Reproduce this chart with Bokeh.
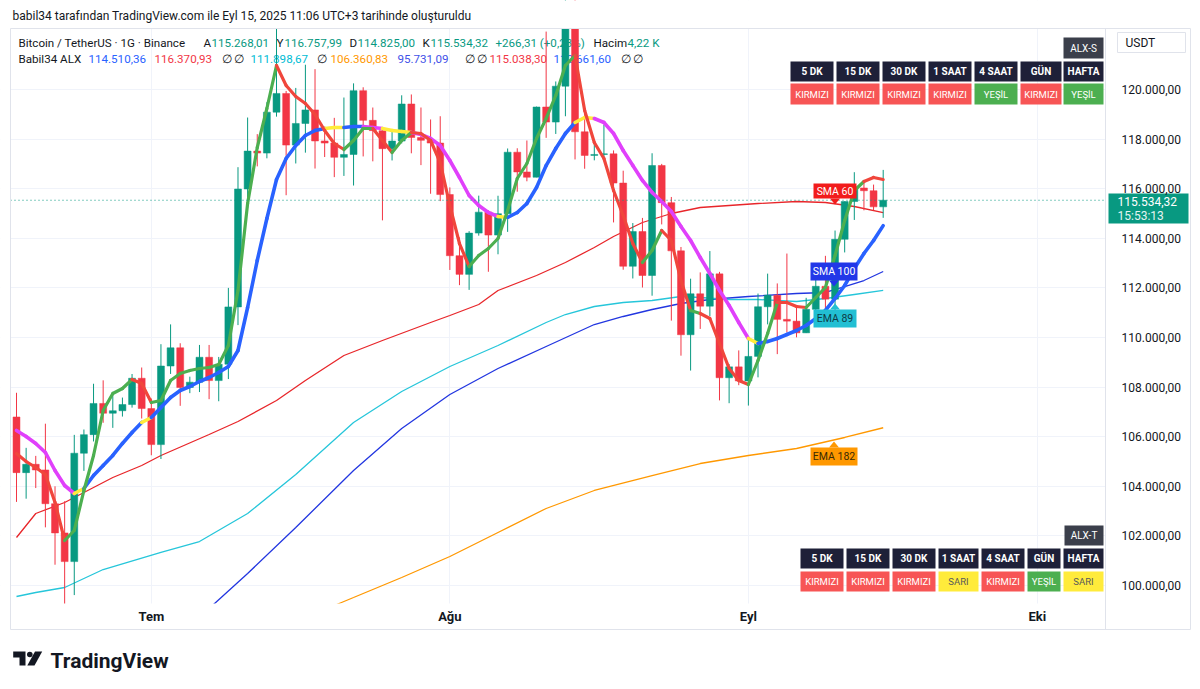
import math
import pandas as pd
from bokeh.plotting import figure
from bokeh.models import Range1d, FixedTicker, CustomJSTickFormatter
from bokeh.embed import file_html
from bokeh.resources import INLINE
from bokeh.core.properties import value

FONT = "Roboto"
DARK = "#131722"
UP = "#089981"
DOWN = "#f23645"

# ---------------- data: BTCUSDT daily candles (Jun 17 - Sep 15, 2025) ----------------
dates = list(pd.date_range("2025-06-17", "2025-09-15", freq="D"))
opens = [106794.53, 104551.18, 104886.79, 104658.59, 103297.99, 102120.02, 100963.87, 105333.94,
         106083.00, 107340.59, 106947.06, 107047.58, 107296.79, 108356.93, 107135.34, 105681.13,
         108849.59, 109584.77, 107984.25, 108198.12, 109203.85, 108262.94, 108922.99, 111234.00,
         115987.20, 117516.99, 117435.24, 119086.65, 119841.17, 117758.09, 118630.44, 119177.56,
         117924.84, 117840.01, 117265.11, 117380.36, 119954.43, 118756.00, 118340.98, 117614.31,
         117919.99, 119415.56, 118062.32, 117950.75, 117840.29, 115764.07, 113297.93, 112546.35,
         114208.81, 115055.03, 114129.75, 114992.27, 117472.02, 116674.74, 116462.25, 119294.27,
         118686.00, 120134.09, 123306.44, 118295.09, 117342.04, 117380.66, 117405.01, 116227.05,
         112872.95, 114271.23, 112500.00, 116936.00, 115438.06, 113493.59, 110111.98, 111763.22,
         111262.01, 112566.90, 108377.40, 108816.33, 108246.36, 109237.43, 111240.01, 111705.72,
         110730.87, 110659.99, 110187.98, 111137.35, 112065.23, 111546.38, 113960.00, 115482.69,
         116029.41, 115918.29, 115268.01]
highs = [107771.34, 105550.27, 105226.32, 106524.65, 104000.00, 103399.62, 106074.20, 106290.00,
         108135.30, 108272.45, 107735.34, 107577.75, 108528.50, 108789.99, 107540.00, 109730.00,
         110529.18, 109767.59, 108420.56, 109700.00, 109700.00, 109216.56, 111999.79, 116868.00,
         118869.98, 118200.00, 119488.00, 123218.00, 119940.83, 120063.84, 120998.71, 120820.71,
         118499.90, 118856.80, 119676.73, 120247.80, 120090.00, 119273.36, 118451.57, 118297.35,
         119766.65, 119800.00, 119273.86, 118792.00, 118922.45, 116052.00, 114036.00, 114288.00,
         115720.00, 115127.81, 115716.00, 117621.00, 117630.00, 117944.05, 119311.11, 122335.16,
         120324.43, 123694.00, 124474.00, 119216.82, 117898.99, 118575.00, 117543.75, 116725.69,
         114615.38, 114821.76, 117429.05, 117000.00, 115666.68, 113650.00, 112371.00, 112625.00,
         113485.90, 112646.40, 108926.15, 109480.02, 109912.40, 111771.52, 112575.27, 112180.00,
         113384.62, 111307.00, 111600.00, 112924.37, 113293.00, 114313.13, 115488.09, 116665.63,
         116298.78, 116165.19, 116757.99]
lows = [103371.02, 103500.00, 103929.27, 102345.00, 100837.90, 98200.00, 99613.33, 104622.02,
        105808.03, 106562.50, 106356.76, 106811.51, 107172.52, 106733.33, 105250.85, 105100.19,
        108530.50, 107245.00, 107756.31, 107800.01, 107513.20, 107429.57, 108324.53, 110500.00,
        115222.22, 116900.05, 117224.79, 118905.18, 115736.92, 117017.29, 117453.57, 116812.76,
        117277.34, 116467.02, 116515.00, 116128.00, 117301.00, 117103.10, 114723.16, 117138.38,
        117825.50, 117427.50, 116950.75, 115796.23, 115500.00, 112722.58, 112111.10, 111920.00,
        114107.13, 112650.00, 113355.13, 114259.00, 115878.71, 116299.13, 116460.93, 118050.11,
        118207.47, 118921.35, 117180.00, 116803.99, 117143.98, 117172.21, 114640.14, 112732.58,
        112380.00, 112015.67, 111684.79, 114560.00, 110680.00, 109266.67, 108666.66, 110345.42,
        110862.42, 107463.90, 107350.10, 108076.93, 107255.00, 108393.39, 110528.71, 109329.12,
        110206.96, 110006.06, 110180.00, 110621.78, 110766.66, 110917.45, 113430.00, 114740.00,
        115127.27, 115135.00, 114825.00]
closes = [104551.17, 104886.78, 104658.59, 103297.99, 102120.01, 100963.87, 105333.93, 106083.00,
          107340.58, 106947.06, 107047.59, 107296.79, 108356.93, 107135.33, 105681.14, 108849.60,
          109584.78, 107984.24, 108198.12, 109203.84, 108262.94, 108922.98, 111233.99, 115987.21,
          117516.99, 117435.23, 119086.64, 119841.18, 117758.09, 118630.43, 119177.56, 117924.84,
          117840.00, 117265.12, 117380.36, 119954.42, 118755.99, 118340.99, 117614.31, 117919.99,
          119415.55, 118062.32, 117950.76, 117840.30, 115764.08, 113297.93, 112546.35, 114208.80,
          115055.03, 114129.75, 114992.27, 117472.01, 116674.74, 116462.25, 119294.01, 118686.00,
          120134.08, 123306.43, 118295.09, 117342.05, 117380.66, 117405.01, 116227.05, 112872.94,
          114271.24, 112500.00, 116935.99, 115438.05, 113493.59, 110111.98, 111763.22, 111262.01,
          112566.90, 108377.40, 108816.33, 108246.35, 109237.42, 111240.01, 111705.71, 110730.87,
          110659.99, 110187.97, 111137.34, 112065.23, 111546.39, 113960.00, 115482.69, 116029.42,
          115918.29, 115268.01, 115534.32]

# fast indicator line (green = rising state, red = falling state), one value per candle
fast_vals = [105323, 105000, 104758, 104476, 103347, 101815, 102218, 103831, 105242, 107056,
             107742, 107944, 108306, 108145, 107379, 107460, 108266, 108548, 108669, 108750,
             108790, 108911, 109677, 111895, 115403, 117661, 119234, 120968, 120161, 119718,
             119435, 118992, 118347, 117823, 117581, 117944, 118427, 118427, 117944, 117460,
             117944, 118266, 118226, 117944, 117056, 115323, 113790, 112863, 113306, 113589,
             113992, 115121, 116411, 117016, 118024, 118831, 119758, 120968, 121371, 119153,
             117863, 117218, 115927, 114919, 113790, 113024, 113508, 114315, 113911, 112298,
             111089, 110968, 110766, 109758, 108750, 108266, 108105, 109073, 110161, 111411,
             111411, 111250, 111210, 111613, 112016, 113306, 114718, 115927, 116290, 116452,
             116370.93]
fast_state = list("dddddduuuu" "uuudduuuuu" "uuuuuuuudd" "ddddduuudd" "uudddddduu"
                  "uuuuuuuuud" "dddddduudd" "duddddduuu" "ddduuuuuud" "d")

# slow indicator line (blue = rising, magenta = falling, yellow = turning)
slow_vals = [106250, 106008, 105726, 105363, 104637, 104032, 103710, 103911, 104435, 104839,
             105242, 105726, 106169, 106573, 106774, 107177, 107581, 107863, 108024, 108226,
             108387, 108589, 108831, 109476, 111210, 113105, 114798, 116371, 117218, 117742,
             118145, 118347, 118427, 118468, 118468, 118508, 118508, 118468, 118427, 118347,
             118306, 118266, 118185, 118024, 117742, 117137, 116452, 115726, 115323, 115040,
             114879, 114839, 115040, 115403, 116048, 116935, 117621, 118226, 118669, 118871,
             118831, 118669, 118226, 117540, 116935, 116331, 115847, 115484, 115081, 114476,
             113911, 113226, 112581, 111895, 111290, 110605, 109960, 109758, 109839, 109960,
             110121, 110282, 110484, 110766, 111089, 111573, 112097, 112782, 113387, 113911,
             114510.36]
slow_state = list("MMMMMMMYBB" "BBBBYBBBBB" "BBBBBBBBBB" "BBBYYBBMMY" "YYMMMMMMMM"
                  "MYBBBBBBBY" "YMMMMMMMMM" "MMMMMMMYBB" "BBBBBBBBBB" "B")

# thin moving averages
sma60_dates = ["2025-06-17", "2025-06-19", "2025-06-22", "2025-06-24", "2025-06-27", "2025-06-30",
               "2025-07-02", "2025-07-07", "2025-07-10", "2025-07-14", "2025-07-17", "2025-07-21",
               "2025-07-25", "2025-07-30", "2025-08-01", "2025-08-04", "2025-08-06", "2025-08-10",
               "2025-08-13", "2025-08-16", "2025-08-18", "2025-08-21", "2025-08-24", "2025-08-27",
               "2025-08-30", "2025-09-02", "2025-09-06", "2025-09-09", "2025-09-12", "2025-09-15"]
sma60_vals = [101935, 102903, 103347, 103750, 104355, 104839, 105242, 106089, 106613, 107460,
              108266, 109274, 109879, 110605, 110887, 111331, 111895, 112500, 113024, 113629,
              114073, 114637, 115000, 115242, 115323, 115403, 115484, 115444, 115282, 115038.30]

ema89_dates = ["2025-06-17", "2025-06-19", "2025-06-22", "2025-06-26", "2025-07-02", "2025-07-06",
               "2025-07-11", "2025-07-16", "2025-07-22", "2025-07-27", "2025-08-01", "2025-08-06",
               "2025-08-11", "2025-08-13", "2025-08-16", "2025-08-19", "2025-08-22", "2025-08-25",
               "2025-08-27", "2025-08-30", "2025-09-02", "2025-09-06", "2025-09-09", "2025-09-12",
               "2025-09-15"]
ema89_vals = [99556, 99718, 99919, 100645, 101331, 101774, 102903, 104476, 106573, 107823,
              108831, 109677, 110605, 110927, 111250, 111411, 111492, 111653, 111613, 111532,
              111532, 111452, 111573, 111734, 111898.67]

sma100_dates = ["2025-07-07", "2025-07-11", "2025-07-16", "2025-07-22", "2025-07-27", "2025-08-01",
                "2025-08-06", "2025-08-11", "2025-08-16", "2025-08-19", "2025-08-22", "2025-08-25",
                "2025-08-28", "2025-09-01", "2025-09-06", "2025-09-09", "2025-09-11", "2025-09-13",
                "2025-09-15"]
sma100_vals = [99073, 100484, 102339, 104637, 106331, 107702, 108750, 109637, 110524, 110847,
               111129, 111371, 111532, 111653, 111774, 111815, 112056, 112298, 112661.60]

ema182_dates = ["2025-07-20", "2025-07-22", "2025-07-27", "2025-08-01", "2025-08-06", "2025-08-11",
                "2025-08-16", "2025-08-22", "2025-08-27", "2025-09-01", "2025-09-06", "2025-09-11",
                "2025-09-15"]
ema182_vals = [99194, 99516, 100323, 101169, 102137, 103105, 103831, 104435, 104919, 105242,
               105524, 105968, 106360.83]

last_price = 115534.32
price_ticks = [100000, 102000, 104000, 106000, 108000, 110000, 112000, 114000, 116000, 118000, 120000]
month_ticks = ["2025-07-01", "2025-08-01", "2025-09-01", "2025-10-01"]

tf_labels = ["5 DK", "15 DK", "30 DK", "1 SAAT", "4 SAAT", "GÜN", "HAFTA"]
alx_s = ["KIRMIZI", "KIRMIZI", "KIRMIZI", "KIRMIZI", "YEŞİL", "KIRMIZI", "YEŞİL"]
alx_t = ["KIRMIZI", "KIRMIZI", "KIRMIZI", "SARI", "KIRMIZI", "YEŞİL", "SARI"]

# ---------------- figure: the frame covers the whole canvas ----------------
W, H = 1200, 689
PANE_L, PANE_R, PANE_T, PANE_B = 10, 1105, 28, 603
X0_PX, DAY_PX = 16.0, 9.63          # candle-centre of first day, pixels per day
Y100K, PX_PER_K = 585.0, 24.8       # pixel row of 100 000 and pixels per 1 000 USDT
t0 = pd.Timestamp("2025-06-17")


def x_at(px):
    return t0 + pd.Timedelta(days=(px - X0_PX) / DAY_PX)


def y_at(py):
    return 100000 + (Y100K - py) * 1000.0 / PX_PER_K


p = figure(width=W, height=H, x_axis_type="datetime", y_axis_location="right",
           x_range=Range1d(x_at(0), x_at(W)), y_range=Range1d(y_at(H), y_at(0)),
           output_backend="svg", toolbar_location=None,
           min_border=0, min_border_left=0, min_border_right=0, min_border_top=0,
           min_border_bottom=0)
p.title.visible = False
p.outline_line_color = None
p.background_fill_color = "white"
p.border_fill_color = "white"
p.extra_x_ranges = {"px": Range1d(0, W)}
p.extra_y_ranges = {"px": Range1d(H, 0)}
PX = dict(x_range_name="px", y_range_name="px")

mt = [pd.Timestamp(d).value // 10**6 for d in month_ticks]
p.xaxis.ticker = FixedTicker(ticks=mt)
p.xgrid.ticker = FixedTicker(ticks=mt)
p.xaxis.fixed_location = y_at(PANE_B)
p.xaxis.formatter = CustomJSTickFormatter(code="""
const m = ['Oca','Şub','Mar','Nis','May','Haz','Tem','Ağu','Eyl','Eki','Kas','Ara'];
return m[new Date(tick).getUTCMonth()];""")
p.xaxis.major_label_text_font = FONT
p.xaxis.major_label_text_font_size = "13px"
p.xaxis.major_label_text_font_style = "bold"
p.xaxis.major_label_text_color = DARK
p.xaxis.axis_line_color = None
p.xaxis.major_tick_line_color = None
p.xaxis.minor_tick_line_color = None
p.xaxis.major_tick_out = 0
p.xaxis.major_label_standoff = 5

p.yaxis.ticker = FixedTicker(ticks=price_ticks)
p.ygrid.ticker = FixedTicker(ticks=price_ticks)
p.yaxis.fixed_location = x_at(PANE_R).value / 1e6
p.yaxis.formatter = CustomJSTickFormatter(
    code=r"return Math.round(tick).toString().replace(/\B(?=(\d{3})+(?!\d))/g, '.') + ',00';")
p.yaxis.major_label_text_font = FONT
p.yaxis.major_label_text_font_size = "12px"
p.yaxis.major_label_text_color = DARK
p.yaxis.axis_line_color = None
p.yaxis.major_tick_line_color = None
p.yaxis.minor_tick_line_color = None
p.yaxis.major_tick_out = 0
p.yaxis.major_label_standoff = 16

p.xgrid.grid_line_color = "#f0f3fa"
p.ygrid.grid_line_color = "#f0f3fa"

# ---------------- header legend texts (under the candles) ----------------
BLUE = "#2962ff"
RED = "#f23645"
hx = [18, 203, 211, 276, 284, 349, 357, 422, 430, 495, 593, 627]
ht = ["Bitcoin / TetherUS · 1G · Binance", "A", "115.268,01", "Y", "116.757,99", "D", "114.825,00",
      "K", "115.534,32", "+266,31 (+0,23%)", "Hacim", "4,22 K"]
hc = [DARK, DARK, UP, DARK, UP, DARK, UP, DARK, UP, UP, DARK, UP]
p.text(x=hx, y=[42] * len(hx), text=ht, text_color=hc, text_font=value(FONT),
       text_font_size="11.6px", text_baseline="middle", text_align="left", **PX)
lx = [18, 88, 154, 221, 250, 316, 330, 397, 464, 489, 553, 620]
lt = ["Babil34 ALX", "114.510,36", "116.370,93", "∅  ∅", "111.898,67", "∅", "106.360,83",
      "95.731,09", "∅  ∅", "115.038,30", "112.661,60", "∅  ∅"]
lc = [DARK, BLUE, RED, DARK, "#00bcd4", DARK, "#ff9800", "#3f51e8", DARK, RED, BLUE, DARK]
p.text(x=lx, y=[58] * len(lx), text=lt, text_color=lc, text_font=value(FONT),
       text_font_size="11.6px", text_baseline="middle", text_align="left", **PX)

# ---------------- thin moving averages ----------------
p.line(pd.to_datetime(ema182_dates), ema182_vals, line_color="#ff9800", line_width=1.3)
p.line(pd.to_datetime(sma100_dates), sma100_vals, line_color="#2236e0", line_width=1.3)
p.line(pd.to_datetime(ema89_dates), ema89_vals, line_color="#26c6da", line_width=1.3)
p.line(pd.to_datetime(sma60_dates), sma60_vals, line_color="#e8262a", line_width=1.3)

# ---------------- candles ----------------
ccol = [UP if c >= o else DOWN for o, c in zip(opens, closes)]
p.segment(x0=dates, y0=lows, x1=dates, y1=highs, line_color=ccol, line_width=1)
p.vbar(x=dates, width=0.72 * 86400000, top=[max(o, c) for o, c in zip(opens, closes)],
       bottom=[min(o, c) for o, c in zip(opens, closes)], fill_color=ccol, line_color=ccol,
       line_width=0.5)

# ---------------- thick indicator lines ----------------
slow_cmap = {"B": "#2962ff", "M": "#e040fb", "Y": "#ffeb3b"}
p.segment(x0=dates[:-1], y0=slow_vals[:-1], x1=dates[1:], y1=slow_vals[1:],
          line_color=[slow_cmap[s] for s in slow_state[1:]], line_width=3.6, line_cap="round")
fast_cmap = {"u": "#4caf50", "d": "#f0463c"}
p.segment(x0=dates[:-1], y0=fast_vals[:-1], x1=dates[1:], y1=fast_vals[1:],
          line_color=[fast_cmap[s] for s in fast_state[1:]], line_width=3.2, line_cap="round")

# last price dotted line
p.segment(x0=[PANE_L], x1=[PANE_R], y0=[last_price], y1=[last_price], line_color=UP,
          line_width=1, line_dash="1 3", x_range_name="px")

# ---------------- white masks outside the price pane ----------------
p.quad(left=[0, 0, 0, PANE_R], right=[W, W, PANE_L, W], top=[0, PANE_B, 0, 0],
       bottom=[PANE_T, H, H, H], fill_color="white", line_color=None, **PX)
# chart border and price-scale separator
p.quad(left=[10], right=[1190], top=[28], bottom=[629], fill_color=None,
       line_color="#e0e3eb", line_width=1, **PX)
p.segment(x0=[PANE_R], x1=[PANE_R], y0=[28], y1=[629], line_color="#e0e3eb", **PX)

# ---------------- MA name tags ----------------
tags = [("SMA 60", 813, 856, 183, 198, "#f21c1c", "white", "down"),
        ("SMA 100", 810, 857, 262, 280, "#2237e8", "white", "down"),
        ("EMA 89", 813, 856, 309, 327, "#22bfd3", "#0e3c47", "up"),
        ("EMA 182", 810, 857, 447, 465, "#ff9800", "#3a2a05", "up")]
for name, l, r, t, b, fc, tc, arrow in tags:
    cx = (l + r) / 2
    if arrow == "down":
        p.patch([cx - 5, cx + 5, cx], [b, b, b + 6], fill_color=fc, line_color=None, **PX)
    else:
        p.patch([cx - 5, cx + 5, cx], [t, t, t - 6], fill_color=fc, line_color=None, **PX)
    p.quad(left=[l], right=[r], top=[t], bottom=[b], fill_color=fc, line_color=None, **PX)
    p.text(x=[cx], y=[(t + b) / 2], text=[name], text_color=tc, text_font=value(FONT),
           text_font_size="10.5px", text_align="center", text_baseline="middle", **PX)

# ---------------- signal tables ----------------
status_fill = {"KIRMIZI": "#f75555", "YEŞİL": "#4caf50", "SARI": "#ffeb3b"}
status_text = {"KIRMIZI": "white", "YEŞİL": "white", "SARI": "#5a5a5a"}


def table(cols, title, title_box, r1, r2, statuses):
    tl, tr, tt, tb = title_box
    p.quad(left=[tl], right=[tr], top=[tt], bottom=[tb], fill_color="#3b3f4b", line_color=None, **PX)
    p.text(x=[(tl + tr) / 2], y=[(tt + tb) / 2], text=[title], text_color="white",
           text_font=value(FONT), text_font_size="10px", text_align="center",
           text_baseline="middle", **PX)
    ls = [c[0] for c in cols]
    rs = [c[1] for c in cols]
    cxs = [(a + b) / 2 for a, b in cols]
    p.quad(left=ls, right=rs, top=[r1[0]] * 7, bottom=[r1[1]] * 7, fill_color="#1e2038",
           line_color=None, **PX)
    p.text(x=cxs, y=[(r1[0] + r1[1]) / 2] * 7, text=tf_labels, text_color="white",
           text_font=value(FONT), text_font_size="10px", text_font_style="bold",
           text_align="center", text_baseline="middle", **PX)
    p.quad(left=ls, right=rs, top=[r2[0]] * 7, bottom=[r2[1]] * 7,
           fill_color=[status_fill[s] for s in statuses], line_color=None, **PX)
    p.text(x=cxs, y=[(r2[0] + r2[1]) / 2] * 7, text=statuses,
           text_color=[status_text[s] for s in statuses], text_font=value(FONT),
           text_font_size="9.5px", text_align="center", text_baseline="middle", **PX)


table([(790, 833), (836, 879), (882, 925), (928, 971), (974, 1017), (1020, 1061), (1063, 1103)],
      "ALX-S", (1063, 1103, 37, 58), (61, 81), (83, 104), alx_s)
table([(800, 843), (846, 889), (892, 935), (938, 978), (981, 1024), (1027, 1060), (1063, 1103)],
      "ALX-T", (1064, 1103, 525, 545), (548, 568), (571, 591), alx_t)

# ---------------- price-scale overlays ----------------
p.quad(left=[1108], right=[1188], top=[193], bottom=[223], fill_color=UP, line_color=None, **PX)
p.text(x=[1117, 1117], y=[201, 215], text=["115.534,32", "15:53:13"],
       text_color=["white", "#e3f4f1"], text_font=value(FONT), text_font_size="12px",
       text_align="left", text_baseline="middle", **PX)
p.quad(left=[1117], right=[1185], top=[32], bottom=[52], fill_color="white",
       line_color="#e0e3eb", line_width=1, **PX)
p.text(x=[1125], y=[42], text=["USDT"], text_color=DARK, text_font=value(FONT),
       text_font_size="12px", text_align="left", text_baseline="middle", **PX)

# ---------------- snapshot title and logo ----------------
p.text(x=[12], y=[15], text=["babil34 tarafından TradingView.com ile Eyl 15, 2025 11:06 UTC+3 tarihinde oluşturuldu"],
       text_color=DARK, text_font=value(FONT), text_font_size="12px", text_align="left",
       text_baseline="middle", **PX)
p.text(x=[50], y=[660], text=["TradingView"], text_color=DARK, text_font=value(FONT),
       text_font_size="21px", text_font_style="bold", text_align="left",
       text_baseline="middle", **PX)
p.patches(xs=[[12.7, 25, 25, 19, 19, 12.7], [34.5, 41.7, 34, 26.8]],
          ys=[[651, 651, 665, 665, 657, 657], [651, 651, 665, 665]],
          fill_color=DARK, line_color=None, **PX)
p.circle(x=[29.3], y=[654], radius=2.8, fill_color=DARK, line_color=None, **PX)

open("out.html", "w").write(file_html(p, INLINE))
